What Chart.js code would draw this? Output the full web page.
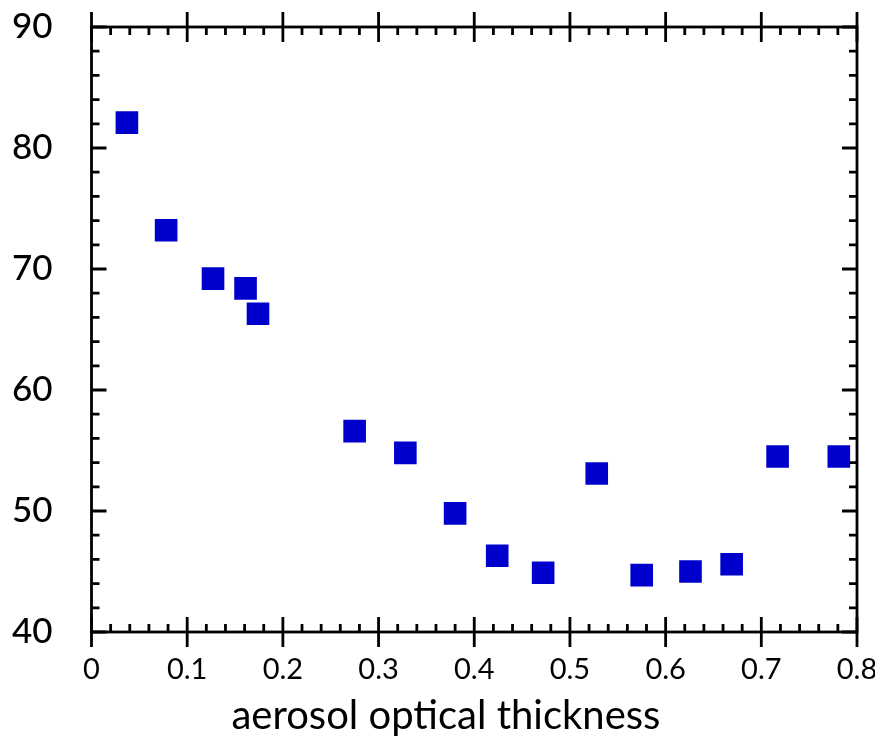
<!DOCTYPE html>
<html>
<head>
<meta charset="utf-8">
<script src="https://cdn.jsdelivr.net/npm/chart.js@4/dist/chart.umd.min.js"></script>
<style>
  html, body { margin: 0; padding: 0; background: #fff; }
  #wrap { width: 875px; height: 743px; }
</style>
</head>
<body>
<div id="wrap"><canvas id="chart"></canvas></div>
<script>
const aot = [0.037, 0.078, 0.127, 0.161, 0.174, 0.275, 0.328, 0.380, 0.424, 0.472, 0.528, 0.575, 0.626, 0.669, 0.717, 0.781];
const values = [82.1, 73.2, 69.2, 68.4, 66.3, 56.6, 54.8, 49.8, 46.3, 44.9, 53.1, 44.7, 45.0, 45.6, 54.5, 54.5];

const xTicks = [0, 0.1, 0.2, 0.3, 0.4, 0.5, 0.6, 0.7, 0.8];
const yTicks = [40, 50, 60, 70, 80, 90];
const xMinorStep = 0.02;
const yMinorStep = 2;

const xTitle = "aerosol optical thickness";

// frame with ticks on all four sides, pointing inwards, plus the x title
const frameTicks = {
  id: "frameTicks",
  afterDraw(chart) {
    const { ctx, chartArea: a } = chart;
    const xs = chart.scales.x;
    const ys = chart.scales.y;
    const major = 15;
    const minor = 8;
    ctx.save();
    ctx.strokeStyle = "#000";
    ctx.lineWidth = 2.8;
    ctx.lineCap = "butt";
    ctx.strokeRect(a.left, a.top, a.right - a.left, a.bottom - a.top);

    ctx.beginPath();
    xTicks.forEach((v) => {
      const px = xs.getPixelForValue(v);
      ctx.moveTo(px, a.bottom + major);
      ctx.lineTo(px, a.bottom - major);
      ctx.moveTo(px, a.top - major);
      ctx.lineTo(px, a.top + major);
    });
    for (let i = 0; i * 0.1 < xs.max; i++) {
      for (let j = 1; j < 5; j++) {
        const px = xs.getPixelForValue(i * 0.1 + j * xMinorStep);
        ctx.moveTo(px, a.bottom);
        ctx.lineTo(px, a.bottom - minor);
        ctx.moveTo(px, a.top);
        ctx.lineTo(px, a.top + minor);
      }
    }
    yTicks.forEach((v) => {
      const py = ys.getPixelForValue(v);
      ctx.moveTo(a.left, py);
      ctx.lineTo(a.left + major, py);
      ctx.moveTo(a.right, py);
      ctx.lineTo(a.right - major, py);
    });
    for (let v = ys.min; v < ys.max; v += 10) {
      for (let j = 1; j < 5; j++) {
        const py = ys.getPixelForValue(v + j * yMinorStep);
        ctx.moveTo(a.left, py);
        ctx.lineTo(a.left + minor, py);
        ctx.moveTo(a.right, py);
        ctx.lineTo(a.right - minor, py);
      }
    }
    ctx.stroke();

    // axis title sits a little left of the plot centre in the original
    ctx.fillStyle = "#000";
    ctx.font = "40px Lato";
    ctx.textAlign = "center";
    ctx.textBaseline = "alphabetic";
    ctx.fillText(xTitle, a.left + (a.right - a.left) * 0.463, a.bottom + 97);
    ctx.restore();
  },
};

const chartConfig = {
  type: "scatter",
  data: {
    datasets: [
      {
        data: aot.map((x, i) => ({ x, y: values[i] })),
        pointStyle: "rect",
        pointRadius: 16,
        pointHoverRadius: 16,
        backgroundColor: "#0000cc",
        borderColor: "#0000cc",
        borderWidth: 0,
      },
    ],
  },
  options: {
    responsive: true,
    maintainAspectRatio: false,
    animation: false,
    layout: { padding: { top: 27, right: 18, left: 0, bottom: 0 } },
    plugins: {
      legend: { display: false },
      tooltip: { enabled: false },
    },
    scales: {
      x: {
        type: "linear",
        min: 0,
        max: 0.8,
        afterBuildTicks(scale) {
          scale.ticks = xTicks.map((value) => ({ value }));
        },
        afterFit(scale) {
          scale.height = 111;
          scale.paddingLeft = 0;
          scale.paddingRight = 0;
        },
        grid: { display: false, drawTicks: false },
        border: { display: false },
        ticks: {
          padding: 20,
          color: "#000",
          font: { family: "Lato", size: 29 },
          maxRotation: 0,
          callback: (v) => String(Math.round(v * 10) / 10),
        },
      },
      y: {
        type: "linear",
        min: 40,
        max: 90,
        afterBuildTicks(scale) {
          scale.ticks = yTicks.map((value) => ({ value }));
        },
        afterFit(scale) {
          scale.width = 91.5;
          scale.paddingTop = 0;
          scale.paddingBottom = 0;
        },
        grid: { display: false, drawTicks: false },
        border: { display: false },
        ticks: {
          padding: 39,
          color: "#000",
          font: { family: "Lato", size: 35, weight: "500" },
        },
      },
    },
  },
  plugins: [frameTicks],
};

window.addEventListener("DOMContentLoaded", () => {
  new Chart(document.getElementById("chart"), chartConfig);
});
</script>
</body>
</html>
